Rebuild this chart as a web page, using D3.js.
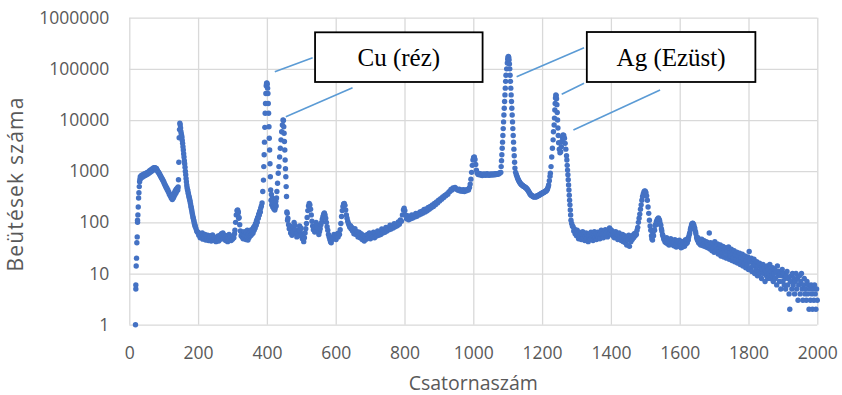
<!DOCTYPE html>
<html>
<head>
<meta charset="utf-8">
<script src="https://cdn.jsdelivr.net/npm/d3@7"></script>
<style>
  body { margin: 0; background: #fff; }
  svg { display: block; }
</style>
</head>
<body>
<svg id="chart" width="842" height="395"></svg>
<script>
// tick values
const xTicks = [0, 200, 400, 600, 800, 1000, 1200, 1400, 1600, 1800, 2000];
const yTicks = [1, 10, 100, 1000, 10000, 100000, 1000000];

// spectrum, [channel, counts]
const lowEnergy = [
  [18,1],[19,5],[19,6],[20,14],[21,20],[22,40],[23,52],[24,100],[24,110],[25,140],[26,200],[27,300],
  [28,380],[29,500],[30,620],[31,700],[32,780],[33,720],[34,760],[35,830],[36,800],[38,760],[39,850],
  [40,830],[42,800],[43,880],[44,850],[46,820],[47,900],[48,880],[50,850],[51,930],[52,910],[54,880],
  [55,970],[56,950],[58,920],[59,1020],[60,1000],[62,960],[63,1070],[64,1050],[66,1010],[67,1120],
  [68,1100],[70,1060],[71,1170],[72,1150],[74,1100],[75,1170],[76,1140],[78,1080],[79,1130],[80,1050],
  [82,1040],[83,980],[85,960],[86,910],[88,880],[89,840],[91,810],[92,770],[94,740],[95,710],[97,680],
  [98,650],[100,620],[101,590],[103,560],[104,530],[106,510],[107,480],[109,470],[110,440],[112,430],
  [113,400],[115,390],[116,360],[118,350],[119,330],[121,320],[122,300],[124,310],[125,280],[126,330],
  [128,300],[129,360],[130,320],[132,390],[133,350],[134,420],[136,380],[137,450],[138,410],[140,470],
  [141,430],[142,490],[143,680],[144,1500],[145,4500],[146,6500],[147,8700],[148,8000],[149,7000],
  [150,6000],[151,5400],[152,5000],[153,4600],[154,4000],[155,3500],[156,3000],[157,2600],[158,2200],
  [159,1900],[160,1600],[161,1400],[162,1200],[163,1000],[164,850],[165,720],[166,620],[167,540],
  [168,480],[169,440],[170,420],[171,380],[172,360],[173,330],[174,310],[175,290],[176,270],[177,250],
  [178,230],[179,210],[180,195],[181,180],[182,165],[183,150],[184,140],[185,128],[186,120],[187,112],
  [188,105],[189,96],[190,92],[191,86],[192,82],[194,75],[196,68],[198,64]
];

const flatLow = [
  [200,64],[202,56],[204,60],[206,50],[208,58],[210,52],[212,62],[214,47],[216,55],[218,50],[220,58],
  [222,45],[224,53],[226,48],[228,56],[230,44],[232,51],[234,47],[236,55],[238,43],[240,50],[242,57],
  [244,46],[246,52],[248,44],[250,49],[252,42],[254,50],[256,46],[258,54],[260,43],[262,49],[264,56],
  [266,47],[268,60],[270,52],[272,62],[274,48],[276,57],[278,50],[280,44],[282,55],[284,48],[286,42],
  [288,52],[290,58],[292,46],[294,53],[296,44],[298,50],[300,47],[302,55],[304,50],[306,60],[307,70],
  [309,100],[311,140],[313,170],[315,175],[316,150],[317,160],[318,120],[319,125],[321,90],[323,68],
  [325,55],[327,64],[328,52],[330,60],[331,48],[333,58],[334,66],[336,50],[337,56],[339,46],[340,62],
  [342,52],[343,70],[345,45],[346,58],[348,50],[349,62],[351,54],[352,66],[354,56],[355,72],[357,60],
  [358,68],[360,62],[361,80],[363,70],[364,85],[366,78],[367,95],[369,88],[370,110],[372,100],[373,125],
  [375,120],[376,145],[378,140],[379,165],[381,160],[382,190],[384,210]
];

const cuPeaks = [
  [386,240],[388,400],[390,670],[391,1230],[392,2100],[393,3700],[394,7200],[395,13600],[396,21000],
  [397,33000],[398,47000],[399,52000],[400,53000],[401,50000],[402,42000],[403,33000],[404,21000],
  [405,13600],[406,7400],[407,4400],[408,2600],[409,1400],[410,780],[411,430],[412,270],[413,350],
  [414,220],[415,260],[416,300],[417,200],[418,230],[419,240],[420,185],[421,205],[422,210],[423,175],
  [424,190],[425,230],[426,260],[427,210],[428,300],[429,400],[431,580],[433,910],[435,1230],[437,1900],
  [439,2800],[441,4100],[443,5900],[445,8000],[447,10000],[448,9800],[449,7400],[450,5500],[451,3800],
  [452,2600],[453,1650],[454,1120],[455,780],[456,500],[457,320],[458,160],[459,150],[460,110]
];

const midRange = [
  [461,120],[463,90],[465,75],[467,85],[469,62],[471,70],[473,56],[475,66],[477,80],[479,100],[481,88],
  [483,72],[485,60],[487,52],[489,62],[491,55],[493,72],[495,85],[497,68],[499,78],[501,58],[503,48],
  [505,55],[507,42],[509,50],[511,62],[513,75],[515,95],[517,125],[519,170],[521,210],[523,235],
  [525,220],[527,180],[529,140],[531,105],[533,85],[535,72],[537,80],[539,65],[541,85],[543,100],
  [545,90],[547,78],[549,68],[551,58],[553,66],[555,75],[557,90],[559,100],[561,115],[563,130],
  [565,145],[567,152],[569,140],[571,120],[573,100],[575,82],[577,70],[579,58],[581,52],[583,46],
  [585,42],[587,40],[589,46],[591,52],[593,48],[595,58],[597,50],[599,56],[601,46],[603,54],[605,60],
  [607,52],[609,62],[611,58],[613,72],[615,95],[617,130],[619,170],[621,205],[623,230],[625,235],
  [627,215],[629,175],[631,140],[633,120],[635,105],[637,95],[639,88],[641,80],[643,86],[645,74],
  [647,80],[649,68],[650,72],[653,60],[656,75],[659,58],[662,66],[665,52],[668,64],[671,50],[674,60],
  [677,46],[680,56],[683,43],[686,52],[689,47],[692,58],[695,50],[698,62],[701,48],[704,58],[707,52],
  [710,64],[713,50],[716,60],[719,54],[722,68],[725,56],[728,64],[731,58],[734,74],[737,62],[740,70],
  [743,64],[746,80],[749,68],[752,78],[755,72],[758,88],[761,74],[764,84],[767,78],[770,94],[773,82],
  [776,92],[779,86],[782,102],[785,92],[788,112],[791,105],[794,140],[797,175],[799,190],[801,170],
  [803,140],[806,118],[809,135],[812,112],[815,128],[818,118],[821,140],[824,122],[827,138],[830,128],
  [833,150],[836,132],[839,148],[842,140],[845,160],[848,145],[851,165],[854,152],[857,178],[860,160],
  [863,182],[866,168],[869,195],[872,180],[875,205],[878,192],[881,220],[884,205],[887,235],[890,222],
  [893,250],[896,240],[899,270],[902,262],[905,290],[908,282],[911,315],[914,305],[917,335],[920,330],
  [923,360],[926,355],[929,395],[932,400],[935,440],[938,430],[941,470],[944,460],[947,480],[950,455],
  [953,440],[956,425],[959,445],[962,410],[965,430],[968,405],[971,435],[974,400],[977,430],[980,415],
  [983,440],[986,430],[989,480],[991,560],[993,700],[995,950],[997,1300],[999,1650],[1001,1850],
  [1003,1900],[1005,1700],[1007,1350],[1009,1050],[1011,920],[1014,860],[1017,900],[1020,840],
  [1022,880],[1024,860],[1026,820],[1028,850],[1030,880],[1032,840],[1034,870],[1036,830],[1038,860],
  [1040,890],[1042,840],[1044,860],[1046,830],[1048,870],[1050,850],[1052,880],[1054,840],[1056,870],
  [1058,850],[1060,880],[1062,850],[1064,890],[1066,860],[1068,880],[1070,870],[1072,900],[1074,880],
  [1076,910],[1078,930]
];

const agPeaks = [
  [1080,950],[1081,1230],[1082,1600],[1083,2100],[1084,2800],[1085,3700],[1086,5000],[1087,6800],
  [1088,9200],[1089,12500],[1090,17000],[1091,23000],[1092,31000],[1093,42000],[1094,57000],
  [1095,75000],[1097,100000],[1099,130000],[1100,155000],[1101,170000],[1102,175000],[1103,168000],
  [1104,150000],[1105,125000],[1106,100000],[1107,75000],[1108,57000],[1109,42000],[1110,31000],
  [1111,23000],[1112,17000],[1113,12500],[1114,9200],[1115,6800],[1116,5000],[1117,3700],[1118,2700],
  [1119,2000],[1120,1500],[1121,1150],[1123,950],[1125,860],[1126,820],[1128,760],[1129,720],[1131,680],
  [1132,650],[1134,620],[1135,600],[1137,580],[1138,560],[1140,550],[1141,540],[1143,530],[1144,520],
  [1146,510],[1147,500],[1149,495],[1150,490],[1152,480],[1153,470],[1155,460],[1156,450],[1158,435],
  [1159,420],[1161,400],[1162,390],[1164,370],[1165,360],[1167,345],[1168,340],[1170,335],[1171,330],
  [1173,320],[1174,320],[1176,312],[1177,315],[1179,322],[1180,320],[1182,312],[1183,315],[1185,328],
  [1186,325],[1188,335],[1189,330],[1191,345],[1192,340],[1194,355],[1195,350],[1197,362],[1198,360],
  [1200,375],[1201,370],[1203,385],[1204,380],[1206,395],[1207,390],[1209,405],[1210,400],[1212,415],
  [1213,420],[1215,440],[1216,460],[1218,500],[1219,540],[1221,650],[1223,800],[1224,910],[1226,1230],
  [1228,1900],[1230,2800],[1232,4100],[1233,5900],[1235,8000],[1236,10900],[1237,15700],[1238,21000],
  [1239,27000],[1240,31000],[1241,30000],[1242,26000],[1243,20000],[1244,14000],[1245,10000],
  [1246,7000],[1247,5000],[1248,3600],[1250,2700],[1252,2300],[1254,2400],[1256,3000],[1257,3800],
  [1259,4600],[1261,5100],[1263,5000],[1265,4400],[1267,3500],[1269,2700],[1271,2000],[1272,1650],
  [1273,1300],[1274,1050],[1275,850],[1276,680],[1277,540],[1278,430],[1279,340],[1280,270],[1281,220],
  [1282,175],[1283,140],[1284,110],[1286,95],[1288,85]
];

const tail = [
  [1290,82],[1292,68],[1294,74],[1296,60],[1298,66],[1300,55],[1302,70],[1304,58],[1306,48],[1308,64],
  [1310,54],[1312,60],[1314,46],[1316,57],[1318,66],[1320,50],[1322,58],[1324,44],[1326,54],[1328,62],
  [1330,48],[1332,56],[1334,42],[1336,52],[1338,60],[1340,47],[1342,64],[1344,50],[1346,56],[1348,44],
  [1350,58],[1352,66],[1354,50],[1356,60],[1358,46],[1360,55],[1362,64],[1364,52],[1366,58],[1368,48],
  [1370,62],[1372,70],[1374,54],[1376,60],[1378,50],[1380,66],[1382,58],[1384,72],[1386,56],[1388,64],
  [1390,52],[1392,70],[1394,60],[1396,78],[1398,64],[1400,72],[1402,58],[1404,68],[1406,54],[1408,62],
  [1410,50],[1412,60],[1414,66],[1416,52],[1418,58],[1420,46],[1422,56],[1424,62],[1426,48],[1428,54],
  [1430,44],[1432,52],[1434,58],[1436,42],[1438,50],[1440,55],[1442,40],[1444,48],[1446,36],[1448,52],
  [1450,45],[1452,56],[1454,34],[1456,48],[1458,42],[1460,52],[1462,46],[1464,56],[1466,50],[1468,60],
  [1470,54],[1472,62],[1474,58],[1476,70],[1478,80],[1480,100],[1482,120],[1484,145],[1486,180],
  [1488,220],[1490,270],[1492,320],[1494,360],[1496,395],[1498,410],[1500,405],[1502,380],[1504,330],
  [1506,270],[1508,200],[1510,150],[1512,110],[1514,85],[1516,70],[1518,55],[1519,48],[1521,45],
  [1522,62],[1524,55],[1526,72],[1527,70],[1529,88],[1530,90],[1532,102],[1533,105],[1535,115],
  [1536,112],[1538,122],[1539,118],[1541,112],[1542,105],[1544,92],[1545,88],[1547,74],[1548,68],
  [1550,58],[1551,55],[1553,50],[1554,46],[1556,48],[1557,42],[1559,46],[1560,40],[1562,50],[1563,44],
  [1565,38],[1566,46],[1568,42],[1569,36],[1571,44],[1572,40],[1574,48],[1575,37],[1577,42],[1578,45],
  [1580,38],[1581,44],[1583,35],[1584,41],[1586,46],[1587,36],[1589,40],[1590,33],[1592,44],[1593,38],
  [1595,42],[1596,34],[1598,40],[1599,45],[1601,35],[1602,39],[1604,32],[1605,42],[1607,37],[1608,33],
  [1610,40],[1611,36],[1613,43],[1614,34],[1616,40],[1617,46],[1619,38],[1620,44],[1622,40],[1623,48],
  [1625,45],[1626,52],[1628,58],[1629,62],[1631,72],[1632,78],[1634,86],[1635,92],[1637,95],[1638,96],
  [1640,92],[1641,88],[1643,80],[1644,74],[1646,66],[1647,60],[1649,52],[1650,48],[1652,44],[1653,50],
  [1655,40],[1656,46],[1658,38],[1659,44],[1661,36],[1662,42],[1664,47],[1665,38],[1667,42],[1668,35],
  [1670,40],[1671,44],[1673,34],[1674,39],[1676,42],[1677,33],[1679,38],[1680,41],[1682,32],[1683,36],
  [1686,62],[1688,30],[1690,40],[1692,33],[1694,28],[1696,38],[1698,31],[1700,26],[1702,42],[1704,27],
  [1706,33],[1708,29],[1710,38],[1712,24],[1714,31],[1716,27],[1718,36],[1720,22],[1722,30],[1724,25],
  [1726,34],[1728,21],[1730,29],[1732,26],[1734,32],[1736,20],[1738,27],[1740,23],[1742,33],[1744,19],
  [1746,26],[1748,22],[1750,30],[1752,18],[1754,24],[1756,20],[1758,28],[1760,17],[1762,23],[1764,19],
  [1766,26],[1768,16],[1770,22],[1772,18],[1774,25],[1776,15],[1778,21],[1780,17],[1782,24],[1784,14],
  [1786,19],[1788,16],[1790,22],[1792,13],[1794,18],[1796,15],[1798,21],[1800,12],[1802,27],[1804,17],
  [1806,13],[1808,20],[1810,11],[1812,16],[1814,14],[1816,19],[1818,10],[1820,15],[1822,12],[1824,17],
  [1826,9],[1828,14],[1830,11],[1832,16],[1834,10],[1836,13],[1838,8],[1840,12],[1842,15],[1844,10],
  [1846,13],[1848,7],[1850,11],[1852,9],[1854,14],[1856,8],[1858,12],[1860,10],[1862,15],[1864,8],
  [1866,11],[1868,9],[1870,13],[1872,7],[1874,10],[1876,12],[1878,8],[1880,11],[1882,6],[1884,14],
  [1886,9],[1888,11],[1890,7],[1892,10],[1894,5],[1896,9],[1898,12],[1900,7],[1902,10],[1904,6],
  [1906,8],[1908,5],[1910,9],[1912,11],[1914,6],[1916,8],[1918,4],[1920,2],[1922,7],[1924,9],
  [1926,5],[1928,10],[1930,6],[1932,8],[1934,4],[1936,7],[1938,10],[1940,5],[1942,8],[1944,3],
  [1946,6],[1948,9],[1950,4],[1952,7],[1954,10],[1956,5],[1958,3],[1960,6],[1962,8],[1964,4],
  [1966,5],[1968,3],[1970,7],[1972,4],[1974,6],[1976,2],[1978,5],[1980,3],[1982,6],[1984,4],
  [1986,2],[1988,5],[1990,3],[1992,6],[1994,4],[1996,2],[1998,5],[2000,3]
];

// callouts: box corners and leader lines in data units [channel, counts]
const annotations = [
  { text: 'Cu (réz)', box: [540, 1027, 518000, 55400],
    leaders: [[423, 88000, 533, 165000], [455, 11600, 649, 42800]] },
  { text: 'Ag (Ezüst)', box: [1330, 1820, 525000, 55400],
    leaders: [[1126, 70300, 1322, 259000], [1257, 31800, 1322, 52200], [1291, 6380, 1543, 38600]] }
];

const width = 842, height = 395;
const margin = { top: 17.7, right: 24.7, bottom: 70.3, left: 129.3 };
const innerW = width - margin.left - margin.right;
const innerH = height - margin.top - margin.bottom;

const svg = d3.select('#chart');

const x = d3.scaleLinear().domain([0, 2000]).range([margin.left, width - margin.right]);
const y = d3.scaleLog().domain([1, 1000000]).range([height - margin.bottom, margin.top]);

const gridColor = '#d9d9d9';
const textColor = '#595959';

// grid
svg.append('g')
  .attr('transform', `translate(0,${height - margin.bottom})`)
  .call(d3.axisBottom(x).tickValues(xTicks).tickSize(-innerH).tickFormat(''))
  .call(g => g.select('.domain').remove())
  .call(g => g.selectAll('line').attr('stroke', gridColor).attr('stroke-width', 1.3));

svg.append('g')
  .attr('transform', `translate(${margin.left},0)`)
  .call(d3.axisLeft(y).tickValues(yTicks).tickSize(-innerW).tickFormat(''))
  .call(g => g.select('.domain').remove())
  .call(g => g.selectAll('line').attr('stroke', gridColor).attr('stroke-width', 1.3));

// tick labels
const xAxis = svg.append('g')
  .attr('transform', `translate(0,${height - margin.bottom})`)
  .call(d3.axisBottom(x).tickValues(xTicks).tickSize(0).tickPadding(22).tickFormat(d3.format('d')));
xAxis.select('.domain').remove();
xAxis.selectAll('text')
  .attr('fill', textColor)
  .style('font-family', '"Open Sans", sans-serif')
  .style('font-size', '17.5px');

const yAxis = svg.append('g')
  .attr('transform', `translate(${margin.left},0)`)
  .call(d3.axisLeft(y).tickValues(yTicks).tickSize(0).tickPadding(20).tickFormat(d3.format('d')));
yAxis.select('.domain').remove();
yAxis.selectAll('text')
  .attr('fill', textColor)
  .style('font-family', '"Open Sans", sans-serif')
  .style('font-size', '17.5px');

// axis titles
svg.append('text')
  .attr('x', (margin.left + width - margin.right) / 2)
  .attr('y', 390)
  .attr('text-anchor', 'middle')
  .attr('fill', textColor)
  .style('font-family', '"Open Sans", sans-serif')
  .style('font-size', '19.5px')
  .text('Csatornaszám');

svg.append('text')
  .attr('transform', 'translate(23,184) rotate(-90)')
  .attr('text-anchor', 'middle')
  .attr('fill', textColor)
  .style('font-family', '"Open Sans", sans-serif')
  .style('font-size', '21px')
  .style('letter-spacing', '1.2px')
  .text('Beütések száma');

// dots
const spectrum = [...lowEnergy, ...flatLow, ...cuPeaks, ...midRange, ...agPeaks, ...tail];
svg.append('g')
  .selectAll('circle')
  .data(spectrum)
  .join('circle')
  .attr('cx', d => x(d[0]))
  .attr('cy', d => y(d[1]))
  .attr('r', 2.7)
  .attr('fill', '#4472C4');

// callouts
annotations.forEach(a => {
  const g = svg.append('g');
  a.leaders.forEach(l => {
    g.append('line')
      .attr('x1', x(l[0])).attr('y1', y(l[1]))
      .attr('x2', x(l[2])).attr('y2', y(l[3]))
      .attr('stroke', '#5B9BD5')
      .attr('stroke-width', 1.6);
  });
  const [c0, c1, v0, v1] = a.box;
  g.append('rect')
    .attr('x', x(c0)).attr('y', y(v0))
    .attr('width', x(c1) - x(c0))
    .attr('height', y(v1) - y(v0))
    .attr('fill', '#fff')
    .attr('stroke', '#000')
    .attr('stroke-width', 1.8);
  g.append('text')
    .attr('x', (x(c0) + x(c1)) / 2)
    .attr('y', (y(v0) + y(v1)) / 2)
    .attr('dy', '0.34em')
    .attr('text-anchor', 'middle')
    .attr('fill', '#000')
    .style('font-family', '"Liberation Serif", "Times New Roman", serif')
    .style('font-size', '25px')
    .text(a.text);
});
</script>
</body>
</html>
